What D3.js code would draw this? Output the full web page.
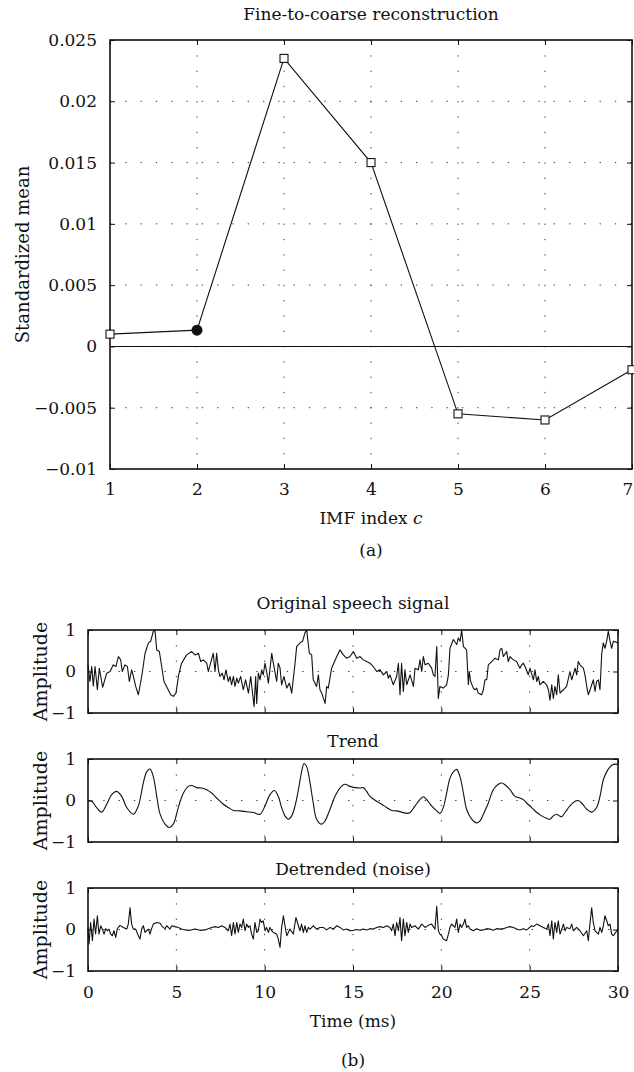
<!DOCTYPE html>
<html><head><meta charset="utf-8">
<script src="https://cdn.jsdelivr.net/npm/d3@7"></script>
<style>
body{margin:0;background:#fff}
svg text{font-family:"DejaVu Serif",serif;fill:#111}
</style></head><body>
<svg id="c" width="634" height="1072"></svg>
<script>
// ---------- data (a) ----------
const imfIndex = [1, 2, 3, 4, 5, 6, 7];
const standardizedMean = [0.001, 0.00133, 0.0235, 0.015, -0.0055, -0.006, -0.0019];
const selectedIndex = 2;
const meanTicks = [-0.01, -0.005, 0, 0.005, 0.01, 0.015, 0.02, 0.025];
const meanTickLabels = ["\u22120.01", "\u22120.005", "0", "0.005", "0.01", "0.015", "0.02", "0.025"];

// ---------- data (b) ----------
const timeTicks = [0, 5, 10, 15, 20, 25, 30];
const ampTicks = [-1, 0, 1];
const ampTickLabels = ["\u22121", "0", "1"];
const panelTitles = ["Original speech signal", "Trend", "Detrended (noise)"];

const originalSignal = [[0,0.16],[0.11,-0.24],[0.21,0.12],[0.30,-0.35],[0.40,0.12],[0.53,-0.44],[0.64,0.08],[0.83,-0.38],[1.06,-0.04],[1.25,0.0],[1.43,0.16],[1.58,0.12],[1.72,0.36],[1.85,0.28],[1.94,0.0],[2.09,0.16],[2.23,0.12],[2.34,-0.24],[2.47,0.04],[2.57,-0.12],[2.70,-0.36],[2.85,-0.56],[3.04,-0.12],[3.23,0.44],[3.42,0.69],[3.55,0.73],[3.70,0.97],[3.79,1.0],[3.89,0.52],[4.04,0.48],[4.17,0.12],[4.30,-0.24],[4.49,-0.40],[4.68,-0.56],[4.83,-0.60],[4.98,-0.52],[5.13,-0.08],[5.30,0.20],[5.58,0.40],[5.87,0.48],[6.06,0.40],[6.25,0.44],[6.38,0.24],[6.53,0.28],[6.72,0.20],[6.81,0.0],[6.94,0.20],[7.09,0.44],[7.19,0.0],[7.28,0.44],[7.38,0.04],[7.47,-0.12],[7.60,-0.04],[7.70,-0.20],[7.81,0.04],[7.94,-0.24],[8.04,-0.12],[8.13,-0.32],[8.23,-0.12],[8.32,-0.36],[8.42,-0.16],[8.51,-0.28],[8.64,-0.12],[8.79,-0.44],[8.92,-0.20],[9.08,-0.52],[9.21,-0.12],[9.40,-0.85],[9.49,-0.12],[9.55,-0.77],[9.64,-0.04],[9.74,-0.20],[9.83,0.04],[9.92,-0.08],[10.02,0.20],[10.11,0.0],[10.21,-0.28],[10.40,0.44],[10.49,0.20],[10.68,-0.24],[10.77,0.20],[10.87,0.08],[10.96,-0.32],[11.09,-0.12],[11.25,-0.40],[11.40,-0.28],[11.53,-0.52],[11.72,0.20],[11.81,0.60],[12.00,0.69],[12.15,0.73],[12.28,0.93],[12.38,1.0],[12.53,0.44],[12.66,0.40],[12.75,-0.20],[12.94,-0.36],[13.04,-0.08],[13.13,-0.44],[13.23,-0.52],[13.42,-0.77],[13.51,-0.36],[13.60,-0.40],[13.79,0.08],[14.08,0.36],[14.26,0.52],[14.45,0.40],[14.64,0.32],[14.83,0.36],[15.02,0.48],[15.21,0.32],[15.40,0.36],[15.58,0.28],[15.77,0.24],[15.96,0.20],[16.15,0.12],[16.34,0.0],[16.53,0.04],[16.72,-0.08],[16.91,0.0],[17.00,-0.16],[17.09,-0.08],[17.28,-0.32],[17.47,-0.12],[17.57,0.20],[17.66,-0.56],[17.75,0.20],[17.85,-0.48],[17.94,0.04],[18.04,-0.32],[18.23,-0.08],[18.42,-0.36],[18.51,0.08],[18.70,0.04],[18.79,0.28],[18.89,0.0],[18.98,0.36],[19.08,0.16],[19.26,0.20],[19.45,0.08],[19.55,-0.08],[19.64,-0.12],[19.74,0.60],[19.83,-0.65],[19.92,-0.36],[20.11,-0.40],[20.30,-0.32],[20.40,-0.08],[20.49,0.56],[20.68,0.77],[20.87,0.65],[20.96,0.81],[21.06,0.73],[21.15,1.0],[21.25,0.60],[21.43,0.52],[21.53,-0.32],[21.58,0.0],[21.66,-0.24],[21.81,-0.40],[21.91,-0.44],[22.00,-0.40],[22.09,-0.52],[22.28,-0.56],[22.38,-0.44],[22.47,-0.20],[22.57,-0.20],[22.66,0.16],[22.85,0.24],[23.04,0.32],[23.23,0.28],[23.32,0.52],[23.42,0.56],[23.51,0.36],[23.70,0.48],[23.79,0.24],[23.89,0.36],[24.08,0.28],[24.26,0.24],[24.45,0.08],[24.55,0.16],[24.64,0.20],[24.74,0.12],[24.92,-0.08],[25.02,0.08],[25.21,-0.20],[25.30,0.04],[25.40,-0.24],[25.49,-0.12],[25.58,-0.32],[25.77,-0.24],[25.96,-0.32],[26.06,-0.44],[26.15,-0.69],[26.25,-0.32],[26.34,-0.65],[26.43,-0.36],[26.53,-0.56],[26.62,-0.08],[26.72,-0.52],[26.91,-0.44],[27.09,-0.36],[27.28,0.0],[27.38,-0.20],[27.57,0.08],[27.66,-0.08],[27.75,0.24],[27.85,0.16],[28.04,0.08],[28.13,-0.08],[28.23,-0.36],[28.32,-0.56],[28.42,-0.44],[28.60,-0.20],[28.70,-0.48],[28.79,-0.24],[28.89,-0.20],[28.98,-0.44],[29.08,0.44],[29.17,0.69],[29.26,0.56],[29.36,0.73],[29.45,0.97],[29.55,0.73],[29.64,0.56],[29.74,0.73],[30,0.69]];

const trendSignal = [[0,0],[0.21,-0.02],[0.49,-0.17],[0.77,-0.28],[1.06,-0.09],[1.34,0.14],[1.62,0.22],[1.91,0.10],[2.19,-0.17],[2.57,-0.33],[2.85,-0.13],[3.13,0.42],[3.32,0.69],[3.51,0.76],[3.70,0.57],[3.89,0.10],[4.08,-0.33],[4.36,-0.57],[4.60,-0.65],[4.83,-0.57],[5.11,-0.17],[5.40,0.18],[5.68,0.34],[5.87,0.36],[6.15,0.31],[6.43,0.30],[6.72,0.26],[7.00,0.18],[7.28,0.06],[7.66,-0.09],[7.94,-0.17],[8.23,-0.24],[8.60,-0.25],[8.98,-0.27],[9.36,-0.29],[9.74,-0.33],[10.02,-0.13],[10.30,0.14],[10.55,0.24],[10.77,0.10],[10.96,-0.17],[11.15,-0.37],[11.34,-0.45],[11.53,-0.37],[11.72,-0.13],[11.91,0.26],[12.09,0.69],[12.23,0.89],[12.38,0.81],[12.57,0.42],[12.75,-0.06],[12.94,-0.45],[13.23,-0.57],[13.42,-0.49],[13.70,-0.21],[13.98,0.10],[14.26,0.30],[14.55,0.39],[14.83,0.34],[15.11,0.31],[15.40,0.30],[15.58,0.31],[15.77,0.22],[15.96,0.10],[16.34,-0.02],[16.62,-0.09],[16.91,-0.17],[17.19,-0.24],[17.47,-0.25],[17.75,-0.28],[18.04,-0.31],[18.23,-0.29],[18.51,-0.13],[18.79,0.02],[18.98,0.09],[19.17,0.02],[19.45,-0.13],[19.74,-0.25],[19.92,-0.31],[20.11,-0.17],[20.30,0.18],[20.49,0.54],[20.68,0.69],[20.87,0.75],[21.06,0.57],[21.25,0.18],[21.43,-0.21],[21.72,-0.45],[22.00,-0.54],[22.19,-0.49],[22.38,-0.33],[22.66,-0.06],[22.94,0.26],[23.23,0.39],[23.42,0.42],[23.60,0.38],[23.89,0.26],[24.17,0.10],[24.45,0.06],[24.64,0.02],[24.83,-0.06],[25.11,-0.17],[25.40,-0.29],[25.68,-0.37],[25.96,-0.43],[26.15,-0.45],[26.34,-0.37],[26.53,-0.33],[26.68,-0.37],[26.81,-0.39],[27.00,-0.29],[27.28,-0.13],[27.57,-0.02],[27.75,0.0],[27.94,-0.06],[28.23,-0.21],[28.51,-0.28],[28.79,-0.17],[28.98,0.10],[29.17,0.50],[29.36,0.69],[29.55,0.81],[29.74,0.87],[30,0.87]];

const noiseSignal = [[0,0.05],[0.06,-0.35],[0.15,0.17],[0.25,-0.27],[0.34,0.25],[0.43,-0.11],[0.53,0.33],[0.62,-0.11],[0.72,0.09],[0.81,0.01],[0.91,-0.11],[1.00,0.02],[1.09,-0.03],[1.19,0.01],[1.28,-0.11],[1.38,-0.15],[1.47,-0.03],[1.57,-0.19],[1.66,0.02],[1.81,0.10],[2.00,0.05],[2.19,0.01],[2.28,0.13],[2.38,0.52],[2.47,0.13],[2.57,0.01],[2.70,0.01],[2.85,-0.15],[2.94,-0.23],[3.04,0.01],[3.13,0.09],[3.23,-0.07],[3.32,-0.03],[3.42,0.01],[3.51,-0.11],[3.60,0.02],[3.70,0.13],[3.89,0.17],[4.08,0.15],[4.17,0.09],[4.26,0.05],[4.36,0.02],[4.45,0.09],[4.55,0.05],[4.64,0.01],[4.74,0.09],[4.92,0.07],[5.11,0.05],[5.30,0.01],[5.49,-0.01],[5.77,-0.02],[6.06,0.01],[6.34,-0.02],[6.62,-0.01],[6.81,0.02],[7.00,0.05],[7.19,0.07],[7.38,0.05],[7.57,0.09],[7.75,0.05],[7.94,-0.03],[8.04,0.13],[8.13,-0.15],[8.23,0.17],[8.32,-0.11],[8.42,0.17],[8.51,-0.07],[8.60,0.13],[8.70,0.05],[8.79,0.25],[8.89,-0.03],[8.98,0.13],[9.08,0.05],[9.17,0.09],[9.26,-0.11],[9.36,-0.23],[9.45,0.17],[9.55,-0.07],[9.64,-0.03],[9.74,0.25],[9.83,0.17],[9.92,0.21],[10.02,-0.03],[10.11,0.05],[10.21,-0.07],[10.30,0.05],[10.40,-0.03],[10.49,-0.07],[10.68,-0.11],[10.77,-0.23],[10.87,-0.43],[10.96,0.05],[11.06,0.33],[11.15,0.09],[11.25,-0.15],[11.34,-0.07],[11.43,0.01],[11.62,-0.11],[11.77,0.29],[11.91,0.09],[12.00,-0.03],[12.09,0.13],[12.19,-0.07],[12.28,0.09],[12.38,-0.07],[12.47,0.05],[12.57,0.01],[12.75,0.09],[12.94,0.01],[13.13,0.05],[13.32,0.05],[13.51,-0.01],[13.70,0.05],[13.89,0.01],[14.08,0.09],[14.26,0.05],[14.45,-0.01],[14.64,0.01],[14.83,-0.03],[15.02,-0.02],[15.21,0.0],[15.40,-0.02],[15.58,0.01],[15.77,-0.01],[15.96,0.02],[16.15,0.01],[16.34,0.05],[16.53,0.07],[16.72,0.05],[16.91,0.09],[17.09,0.05],[17.19,-0.03],[17.28,0.13],[17.38,-0.15],[17.47,0.17],[17.57,-0.03],[17.66,0.29],[17.75,-0.27],[17.85,0.25],[17.94,-0.15],[18.04,0.17],[18.13,-0.07],[18.23,0.13],[18.32,0.05],[18.51,0.09],[18.70,0.01],[18.89,0.13],[19.08,0.05],[19.26,0.10],[19.45,0.13],[19.64,0.01],[19.74,0.56],[19.83,-0.03],[19.92,-0.11],[20.02,-0.15],[20.11,-0.23],[20.30,-0.27],[20.40,-0.11],[20.49,0.05],[20.58,0.13],[20.68,0.09],[20.77,0.05],[20.87,0.25],[20.96,-0.07],[21.06,0.13],[21.15,0.05],[21.25,0.13],[21.34,0.25],[21.43,0.05],[21.53,0.09],[21.62,0.01],[21.81,-0.03],[22.00,0.02],[22.19,-0.02],[22.38,-0.01],[22.57,0.02],[22.75,0.01],[22.94,-0.02],[23.13,0.02],[23.32,0.01],[23.51,0.02],[23.70,0.05],[23.89,0.07],[24.08,0.05],[24.26,0.01],[24.45,-0.01],[24.64,0.02],[24.83,-0.01],[24.92,0.02],[25.11,0.09],[25.21,0.07],[25.40,0.13],[25.58,0.09],[25.77,0.05],[25.96,0.01],[26.06,0.13],[26.15,-0.15],[26.25,0.21],[26.34,-0.23],[26.43,0.17],[26.53,-0.07],[26.62,0.21],[26.72,-0.11],[26.91,0.13],[27.00,-0.03],[27.09,0.05],[27.28,0.02],[27.38,0.13],[27.47,-0.03],[27.66,0.05],[27.85,-0.03],[28.04,-0.15],[28.23,-0.03],[28.32,-0.27],[28.42,0.17],[28.51,0.52],[28.60,0.17],[28.70,-0.03],[28.79,-0.07],[28.89,-0.11],[28.98,0.05],[29.08,-0.07],[29.17,0.09],[29.26,0.33],[29.36,0.21],[29.45,0.09],[29.55,0.13],[29.64,-0.11],[29.74,-0.15],[30,0.01]];

// ---------- drawing ----------
const svg = d3.select("#c");
const FS = 17;

function gridAndAxes(g, x, y, box, xt, yt, opts) {
  const grid = g.append("g").attr("stroke", "#333").attr("stroke-width", 1)
    .attr("stroke-dasharray", "1.3,14").attr("fill", "none");
  xt.forEach(v => { const px = x(v);
    if (px > box.left + 1 && px < box.right - 1)
      grid.append("line").attr("x1", px).attr("x2", px).attr("y1", box.top).attr("y2", box.bottom); });
  yt.forEach(v => { const py = y(v);
    if (py > box.top + 1 && py < box.bottom - 1)
      grid.append("line").attr("x1", box.left).attr("x2", box.right).attr("y1", py).attr("y2", py); });

  const style = a => { a.select(".domain").remove();
    a.selectAll("line").attr("stroke", "#111").attr("stroke-width", 1);
    a.selectAll("text").attr("font-size", FS).attr("font-family", '"DejaVu Serif",serif').attr("fill", "#111"); };

  const bx = d3.axisBottom(x).tickValues(xt).tickSize(-5).tickPadding(opts.xPad);
  if (opts.xLabels) bx.tickFormat(opts.xLabels); else bx.tickFormat("");
  const gb = g.append("g").attr("transform", `translate(0,${box.bottom})`).call(bx).call(style);
  // keep the last label inside the window edge
  gb.selectAll(".tick text").filter(d => x(d) > 626).attr("dx", -4.5);
  g.append("g").attr("transform", `translate(0,${box.top})`)
    .call(d3.axisTop(x).tickValues(xt).tickSize(-5).tickFormat("")).call(style);
  g.append("g").attr("transform", `translate(${box.left},0)`)
    .call(d3.axisLeft(y).tickValues(yt).tickSize(-5).tickPadding(opts.yPad).tickFormat(opts.yLabels)).call(style);
  g.append("g").attr("transform", `translate(${box.right},0)`)
    .call(d3.axisRight(y).tickValues(yt).tickSize(-5).tickFormat("")).call(style);
}

function frame(g, box) {
  g.append("rect").attr("x", box.left).attr("y", box.top)
    .attr("width", box.right - box.left).attr("height", box.bottom - box.top)
    .attr("fill", "none").attr("stroke", "#111").attr("stroke-width", 1.6);
}

// ===== (a) =====
const A = {left: 110, right: 632, top: 40, bottom: 469};
const xA = d3.scaleLinear().domain([1, 7]).range([A.left, A.right]);
const yA = d3.scaleLinear().domain([-0.01, 0.025]).range([A.bottom, A.top]);
const gA = svg.append("g");
gridAndAxes(gA, xA, yA, A, imfIndex, meanTicks,
  {xPad: 14, yPad: 13, xLabels: d => String(d), yLabels: d => meanTickLabels[meanTicks.indexOf(d)]});
gA.append("line").attr("x1", xA(1)).attr("x2", xA(7)).attr("y1", yA(0)).attr("y2", yA(0))
  .attr("stroke", "#111").attr("stroke-width", 1.1);
frame(gA, A);

const ptsA = imfIndex.map((c, i) => ({c, v: standardizedMean[i]}));
gA.append("path").datum(ptsA).attr("fill", "none").attr("stroke", "#111").attr("stroke-width", 1.1)
  .attr("d", d3.line().x(d => xA(d.c)).y(d => yA(d.v)));
gA.selectAll("rect.mk").data(ptsA.filter(d => d.c !== selectedIndex)).join("rect").attr("class", "mk")
  .attr("x", d => xA(d.c) - 4).attr("y", d => yA(d.v) - 4).attr("width", 8).attr("height", 8)
  .attr("fill", "#fff").attr("stroke", "#111").attr("stroke-width", 1.1);
gA.selectAll("circle.sel").data(ptsA.filter(d => d.c === selectedIndex)).join("circle").attr("class", "sel")
  .attr("cx", d => xA(d.c)).attr("cy", d => yA(d.v)).attr("r", 5.5).attr("fill", "#111");

gA.append("text").attr("x", (A.left + A.right) / 2).attr("y", 20).attr("text-anchor", "middle")
  .attr("font-size", FS).text("Fine-to-coarse reconstruction");
gA.append("text").attr("transform", `translate(29,${(A.top + A.bottom) / 2}) rotate(-90)`)
  .attr("text-anchor", "middle").attr("font-size", 18).text("Standardized mean");
const xl = gA.append("text").attr("x", (A.left + A.right) / 2).attr("y", 524).attr("text-anchor", "middle")
  .attr("font-size", FS);
xl.append("tspan").text("IMF index ");
xl.append("tspan").attr("font-style", "italic").text("c");
gA.append("text").attr("x", (A.left + A.right) / 2).attr("y", 556).attr("text-anchor", "middle")
  .attr("font-size", FS).text("(a)");

// ===== (b) =====
const panelTops = [630, 759, 888];
const panelH = 83;
const series = [originalSignal, trendSignal, noiseSignal];
const curves = [d3.curveLinear, d3.curveCatmullRom.alpha(0.5), d3.curveLinear];
const titleBase = [609, 747, 875];
const xB = d3.scaleLinear().domain([0, 30]).range([88, 618]);

series.forEach((data, k) => {
  const B = {left: 88, right: 618, top: panelTops[k], bottom: panelTops[k] + panelH};
  const yB = d3.scaleLinear().domain([-1, 1]).range([B.bottom, B.top]);
  const g = svg.append("g");
  gridAndAxes(g, xB, yB, B, timeTicks, ampTicks,
    {xPad: 15, yPad: 12, xLabels: k === 2 ? (d => String(d)) : null,
     yLabels: d => ampTickLabels[ampTicks.indexOf(d)]});
  g.append("path").datum(data).attr("fill", "none").attr("stroke", "#111").attr("stroke-width", 1.1)
    .attr("stroke-linejoin", "round")
    .attr("d", d3.line().x(d => xB(d[0])).y(d => yB(d[1])).curve(curves[k]));
  frame(g, B);
  g.append("text").attr("x", (B.left + B.right) / 2).attr("y", titleBase[k]).attr("text-anchor", "middle")
    .attr("font-size", FS).text(panelTitles[k]);
  g.append("text").attr("transform", `translate(47,${(B.top + B.bottom) / 2}) rotate(-90)`)
    .attr("text-anchor", "middle").attr("font-size", 19).text("Amplitude");
});

svg.append("text").attr("x", 353).attr("y", 1027).attr("text-anchor", "middle").attr("font-size", FS).text("Time (ms)");
svg.append("text").attr("x", 353).attr("y", 1066).attr("text-anchor", "middle").attr("font-size", FS).text("(b)");
</script>
</body></html>
